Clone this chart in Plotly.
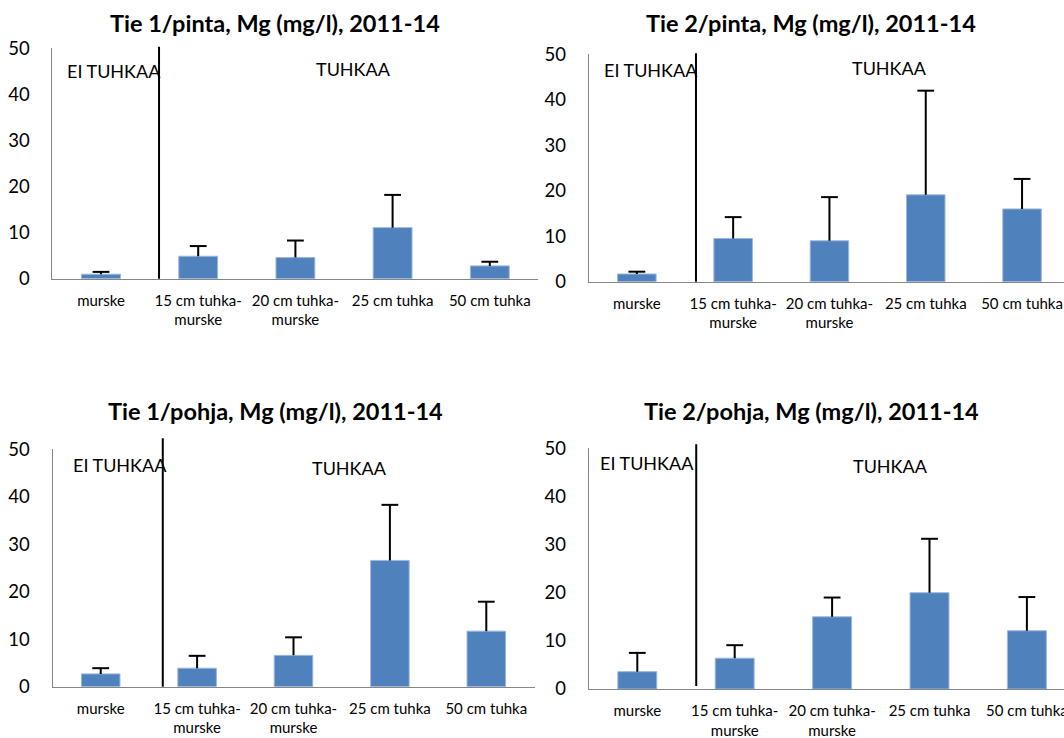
import plotly.graph_objects as go

# Sample groups (x categories)
categories = ["murske", "15 cm tuhka-<br>murske", "20 cm tuhka-<br>murske", "25 cm tuhka", "50 cm tuhka"]
y_ticks = [0, 10, 20, 30, 40, 50]

# Mean Mg concentration (mg/l) and upper deviation, per road / layer
tie1_pinta = [1.0, 4.9, 4.6, 11.1, 2.8]
tie1_pinta_err = [0.5, 2.2, 3.7, 7.1, 0.9]

tie2_pinta = [1.7, 9.5, 9.0, 19.1, 16.0]
tie2_pinta_err = [0.5, 4.7, 9.6, 22.9, 6.6]

tie1_pohja = [2.7, 3.9, 6.6, 26.6, 11.7]
tie1_pohja_err = [1.2, 2.6, 3.8, 11.7, 6.2]

tie2_pohja = [3.6, 6.4, 15.0, 20.0, 12.1]
tie2_pohja_err = [3.9, 2.7, 4.0, 11.2, 7.0]

titles = [
    "Tie 1/pinta, Mg (mg/l), 2011-14",
    "Tie 2/pinta, Mg (mg/l), 2011-14",
    "Tie 1/pohja, Mg (mg/l), 2011-14",
    "Tie 2/pohja, Mg (mg/l), 2011-14",
]
label_left = "EI TUHKAA"
label_right = "TUHKAA"

W, H = 1064, 738
FONT = "Lato"
BAR = "#4F81BD"
AXIS = "#868686"


def px(x):
    return x / W


def py(y):
    return 1 - y / H


# Layout geometry for each panel (pixel units)
panels = [
    dict(vals=tie1_pinta, err=tie1_pinta_err, left=52.4, step=97.2, right=538.4,
         y0=278.8, y50=48.3, div=0.597, div_top=46.7, div_bot=278.8,
         title=(274.6, 22.5), ei=(65.0, 71.0), tu=(353.0, 69.0)),
    dict(vals=tie2_pinta, err=tie2_pinta_err, left=588.7, step=96.3, right=W,
         y0=281.7, y50=54.3, div=0.614, div_top=53.3, div_bot=281.7,
         title=(811.0, 22.5), ei=(601.5, 70.3), tu=(889.0, 68.3)),
    dict(vals=tie1_pohja, err=tie1_pohja_err, left=52.5, step=96.4, right=534.5,
         y0=686.7, y50=449.3, div=0.644, div_top=438.3, div_bot=686.7,
         title=(275.5, 411.0), ei=(70.6, 465.0), tu=(349.2, 468.3)),
    dict(vals=tie2_pohja, err=tie2_pohja_err, left=588.6, step=97.4, right=W,
         y0=689.0, y50=448.3, div=0.605, div_top=444.3, div_bot=686.0,
         title=(811.0, 411.0), ei=(598.0, 462.5), tu=(890.5, 466.0)),
]

fig = go.Figure()
shapes = []
annotations = []

for i, p in enumerate(panels, start=1):
    xa = "x" if i == 1 else f"x{i}"
    ya = "y" if i == 1 else f"y{i}"

    fig.add_trace(go.Bar(
        x=categories, y=p["vals"], xaxis=xa, yaxis=ya,
        marker=dict(color=BAR, line=dict(color="#9DB8DC", width=1)),
        showlegend=False, hoverinfo="skip",
    ))
    # Upper deviation whiskers: vertical stroke down to the bar top plus a cap
    tops = [v + e for v, e in zip(p["vals"], p["err"])]
    fig.add_trace(go.Scatter(
        x=categories, y=tops, xaxis=xa, yaxis=ya, mode="markers",
        marker=dict(symbol="line-ew", size=12, color="black",
                    line=dict(color="black", width=2)),
        error_y=dict(type="data", symmetric=False, array=[0] * len(tops),
                     arrayminus=p["err"], width=0, thickness=2, color="black"),
        showlegend=False, hoverinfo="skip", cliponaxis=False,
    ))

    x_hi = -0.5 + (p["right"] - p["left"]) / p["step"]
    x_dom = [px(p["left"]), min(1.0, px(p["left"] + (x_hi + 0.5) * p["step"]))]
    y_dom = [py(p["y0"]), py(p["y50"])]

    xkey = "xaxis" if i == 1 else f"xaxis{i}"
    ykey = "yaxis" if i == 1 else f"yaxis{i}"
    fig.update_layout(**{
        xkey: dict(domain=x_dom, anchor=ya, type="category", range=[-0.5, x_hi],
                   showline=True, linecolor=AXIS, linewidth=1, ticks="",
                   showgrid=False, zeroline=False, fixedrange=True, automargin=False,
                   tickfont=dict(family=FONT, size=15, color="#000"),
                   ticklabelstandoff=8),
        ykey: dict(domain=y_dom, anchor=xa, range=[0, 50], tickvals=y_ticks,
                   showline=True, linecolor=AXIS, linewidth=1, ticks="",
                   showgrid=False, zeroline=False, fixedrange=True, automargin=False,
                   tickfont=dict(family=FONT, size=18.5, color="#000"),
                   ticklabelstandoff=18),
    })

    shapes.append(dict(type="line", xref=xa, yref="paper",
                       x0=p["div"], x1=p["div"],
                       y0=py(p["div_bot"]), y1=py(p["div_top"]),
                       line=dict(color="black", width=2)))

    annotations.append(dict(text=f"<b>{titles[i - 1]}</b>", xref="paper", yref="paper",
                            x=px(p["title"][0]), y=py(p["title"][1]),
                            xanchor="center", yanchor="middle", showarrow=False,
                            font=dict(family=FONT, size=23.5, color="#000")))
    annotations.append(dict(text=label_left, xref="paper", yref="paper",
                            x=px(p["ei"][0]), y=py(p["ei"][1]),
                            xanchor="left", yanchor="middle", showarrow=False,
                            font=dict(family=FONT, size=18, color="#000")))
    annotations.append(dict(text=label_right, xref="paper", yref="paper",
                            x=px(p["tu"][0]), y=py(p["tu"][1]),
                            xanchor="center", yanchor="middle", showarrow=False,
                            font=dict(family=FONT, size=18, color="#000")))

fig.update_layout(
    width=W, height=H,
    margin=dict(l=0, r=0, t=0, b=0, pad=0, autoexpand=False),
    paper_bgcolor="white", plot_bgcolor="white",
    bargap=0.6,
    shapes=shapes, annotations=annotations,
    font=dict(family=FONT, color="#000"),
)

fig.write_html("out.html", config=dict(displayModeBar=False))
